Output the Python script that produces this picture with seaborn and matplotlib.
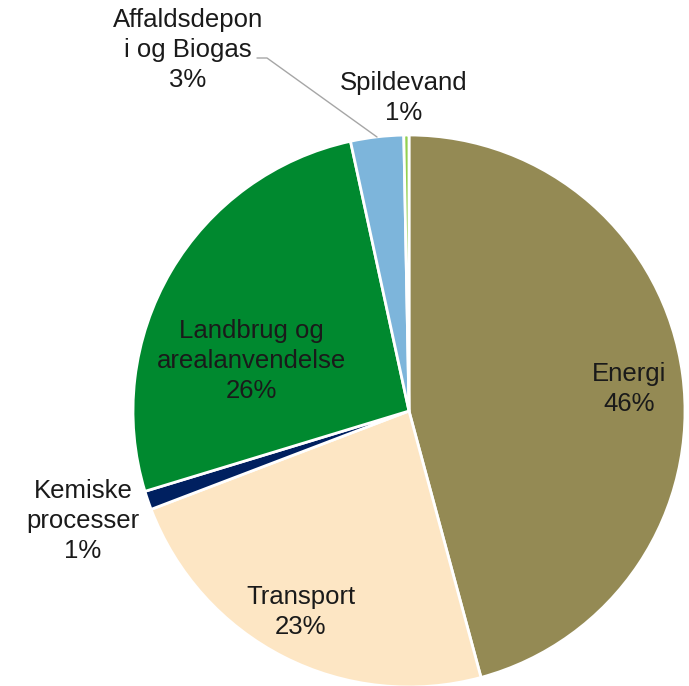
"""Pie chart of emissions by sector."""
import matplotlib
matplotlib.use('Agg')
import matplotlib.pyplot as plt
import seaborn as sns

sectors = ['Energi', 'Transport', 'Kemiske\nprocesser', 'Landbrug og\narealanvendelse',
           'Affaldsdepon\ni og Biogas', 'Spildevand']
shares = [45.8, 23.4, 1.1, 26.3, 3.1, 0.3]
pct_labels = ['46%', '23%', '1%', '26%', '3%', '1%']
colors = ['#948a54', '#fde6c4', '#002060', '#00892f', '#7db5db', '#92d050']

sns.set_style('white')
plt.rcParams['font.family'] = ['Liberation Sans', 'DejaVu Sans']

fig = plt.figure(figsize=(6.89, 6.86), dpi=100)
ax = fig.add_axes([0, 0, 1, 1])

# pie centre and radius in pixel units of the figure
cx, cy, r = 409, 686 - 411, 276
ax.pie(shares, colors=colors, startangle=90, counterclock=False,
       center=(cx, cy), radius=r, frame=True,
       wedgeprops=dict(edgecolor='white', linewidth=2))
ax.set_xlim(0, 689)
ax.set_ylim(0, 686)
ax.set_aspect('equal')
ax.axis('off')

# label text positions (pixels, y from top)
label_pos = [(629, 389), (301, 612), (83, 521), (251, 361), (188, 50), (404, 98)]
for name, pct, (x, y) in zip(sectors, pct_labels, label_pos):
    ax.text(x, 686 - y, f'{name}\n{pct}', ha='center', va='center',
            fontsize=18.5, color='#1a1a1a', linespacing=1.3)

# leader line for Affaldsdeponi
ax.plot([257, 267, 377], [686 - 58, 686 - 58, 686 - 137], color='#a6a6a6', lw=1)

fig.savefig('out.png', dpi=100)
